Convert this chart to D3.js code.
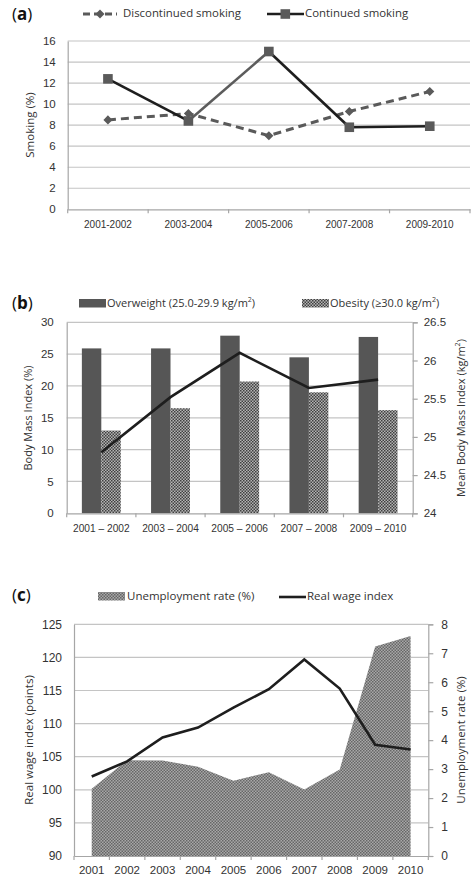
<!DOCTYPE html>
<html>
<head>
<meta charset="utf-8">
<script src="https://cdn.jsdelivr.net/npm/d3@7"></script>
<style>
  html, body { margin: 0; padding: 0; background: #fff; }
  svg { display: block; font-family: "Open Sans", "DejaVu Sans", sans-serif; }
  .tick text { fill: #333; }
</style>
</head>
<body>
<svg id="fig" width="474" height="882"></svg>
<script>
// ---- Panel (a): smoking ----
const smokePeriods = ["2001-2002", "2003-2004", "2005-2006", "2007-2008", "2009-2010"];
const discontinuedSmoking = [8.5, 9.1, 7.0, 9.3, 11.2];
const continuedSmoking = [12.4, 8.4, 15.0, 7.8, 7.9];
const smokeTicks = [0, 2, 4, 6, 8, 10, 12, 14, 16];

// ---- Panel (b): body mass index ----
const bmiPeriods = ["2001 \u2013 2002", "2003 \u2013 2004", "2005 \u2013 2006", "2007 \u2013 2008", "2009 \u2013 2010"];
const overweight = [25.9, 25.9, 27.9, 24.5, 27.7];
const obesity = [13.0, 16.5, 20.7, 19.0, 16.2];
const meanBmi = [24.8, 25.52, 26.1, 25.64, 25.75];
const bmiTicks = [0, 5, 10, 15, 20, 25, 30];
const meanBmiTicks = [24, 24.5, 25, 25.5, 26, 26.5];

// ---- Panel (c): wages and unemployment ----
const years = ["2001", "2002", "2003", "2004", "2005", "2006", "2007", "2008", "2009", "2010"];
const realWage = [102.0, 104.3, 107.9, 109.4, 112.4, 115.2, 119.7, 115.3, 106.8, 106.1];
const unemployment = [2.32, 3.31, 3.30, 3.08, 2.60, 2.89, 2.30, 2.99, 7.23, 7.60];
const wageTicks = [90, 95, 100, 105, 110, 115, 120, 125];
const unempTicks = [0, 1, 2, 3, 4, 5, 6, 7, 8];

const svg = d3.select("#fig");
const GRID = "#c4c4c4", AXIS = "#a6a6a6", TXT = "#333";

// checker fills for the hatched series
const defs = svg.append("defs");
function checker(id, dark, light, cell) {
  const p = defs.append("pattern").attr("id", id).attr("patternUnits", "userSpaceOnUse")
    .attr("width", cell * 2).attr("height", cell * 2);
  p.append("rect").attr("width", cell * 2).attr("height", cell * 2).attr("fill", light);
  p.append("rect").attr("width", cell).attr("height", cell).attr("fill", dark);
  p.append("rect").attr("x", cell).attr("y", cell).attr("width", cell).attr("height", cell).attr("fill", dark);
}
checker("obesityFill", "#404040", "#b4b4b4", 1.5);
checker("unempFill", "#666666", "#a8a8a8", 1.5);

function panelLabel(x, y, letter) {
  const t = svg.append("text").attr("x", x).attr("y", y).attr("font-size", 17).attr("fill", "#111");
  t.append("tspan").text("(");
  t.append("tspan").attr("font-weight", "bold").text(letter);
  t.append("tspan").text(")");
}

function gridLines(g, y, ticks, x0, x1) {
  g.append("g").selectAll("line").data(ticks).join("line")
    .attr("x1", x0).attr("x2", x1)
    .attr("y1", d => y(d)).attr("y2", d => y(d))
    .attr("stroke", GRID).attr("stroke-width", 1.2);
}

function styleAxis(sel, fs) {
  sel.selectAll(".domain").attr("stroke", AXIS).attr("stroke-width", 1.2);
  sel.selectAll(".tick line").attr("stroke", AXIS).attr("stroke-width", 1.2);
  sel.selectAll(".tick text").attr("font-size", fs).attr("fill", TXT);
}

function bandTicks(g, band, yPos, len) {
  const bounds = band.domain().map(d => band(d)).concat([band.range()[1]]);
  g.append("g").selectAll("line").data(bounds).join("line")
    .attr("x1", d => d).attr("x2", d => d)
    .attr("y1", yPos).attr("y2", yPos + len)
    .attr("stroke", AXIS).attr("stroke-width", 1.2);
}

function yTitle(x, y, text, fs) {
  svg.append("text").attr("transform", `translate(${x},${y}) rotate(-90)`)
    .attr("text-anchor", "middle").attr("dominant-baseline", "middle")
    .attr("font-size", fs).attr("fill", TXT).text(text);
}

/* ================= Panel (a) ================= */
{
  const g = svg.append("g");
  const x = d3.scaleBand().domain(smokePeriods).range([67.7, 470]);
  const y = d3.scaleLinear().domain([0, 16]).range([209.3, 41]);
  const cx = d => x(d) + x.bandwidth() / 2;

  gridLines(g, y, smokeTicks.slice(1), 67.7, 470);
  const ya = g.append("g").attr("transform", "translate(67.7,0)")
    .call(d3.axisLeft(y).tickValues(smokeTicks).tickSize(0).tickPadding(12));
  styleAxis(ya, 11.5);
  const xa = g.append("g").attr("transform", `translate(0,${y(0)})`)
    .call(d3.axisBottom(x).tickSize(0).tickPadding(12));
  styleAxis(xa, 10);
  bandTicks(g, x, y(0), 4);

  // discontinued: dashed line with diamonds
  const pts1 = smokePeriods.map((p, i) => [cx(p), y(discontinuedSmoking[i])]);
  g.append("path").attr("d", d3.line()(pts1)).attr("fill", "none")
    .attr("stroke", "#5a5a5a").attr("stroke-width", 3).attr("stroke-dasharray", "8,5");
  g.append("g").selectAll("path").data(pts1).join("path")
    .attr("d", d3.symbol(d3.symbolDiamond2, 52)())
    .attr("transform", d => `translate(${d[0]},${d[1]})`).attr("fill", "#5a5a5a");

  // continued: solid line with squares (rising segment drawn in grey)
  const pts2 = smokePeriods.map((p, i) => [cx(p), y(continuedSmoking[i])]);
  for (let i = 0; i < pts2.length - 1; i++) {
    g.append("path").attr("d", d3.line()([pts2[i], pts2[i + 1]])).attr("fill", "none")
      .attr("stroke", i === 1 ? "#5c5c5c" : "#1e1e1e").attr("stroke-width", 2.6);
  }
  g.append("g").selectAll("rect").data(pts2).join("rect")
    .attr("x", d => d[0] - 4.8).attr("y", d => d[1] - 4.8).attr("width", 9.6).attr("height", 9.6)
    .attr("fill", "#5a5a5a");

  yTitle(31, 125, "Smoking (%)", 11.5);

  // legend
  panelLabel(12, 20, "a");
  const lg = svg.append("g");
  lg.append("line").attr("x1", 83).attr("x2", 117).attr("y1", 14).attr("y2", 14)
    .attr("stroke", "#5a5a5a").attr("stroke-width", 3).attr("stroke-dasharray", "7,4");
  lg.append("path").attr("d", d3.symbol(d3.symbolDiamond2, 52)()).attr("transform", "translate(100,14)").attr("fill", "#5a5a5a");
  lg.append("text").attr("x", 123).attr("y", 14).attr("dominant-baseline", "middle")
    .attr("font-size", 11.4).attr("fill", TXT).text("Discontinued smoking");
  lg.append("line").attr("x1", 267).attr("x2", 304).attr("y1", 14).attr("y2", 14)
    .attr("stroke", "#1e1e1e").attr("stroke-width", 2.6);
  lg.append("rect").attr("x", 280.5).attr("y", 9.2).attr("width", 9.6).attr("height", 9.6).attr("fill", "#5a5a5a");
  lg.append("text").attr("x", 305).attr("y", 14).attr("dominant-baseline", "middle")
    .attr("font-size", 11.4).attr("fill", TXT).text("Continued smoking");
}

/* ================= Panel (b) ================= */
{
  const g = svg.append("g");
  const x = d3.scaleBand().domain(bmiPeriods).range([66.7, 412.7]);
  const sub = d3.scaleBand().domain(["ow", "ob"]).range([0, x.bandwidth()]).paddingOuter(0.78).paddingInner(0);
  const y = d3.scaleLinear().domain([0, 30]).range([513.3, 322.3]);
  const yR = d3.scaleLinear().domain([24, 26.5]).range([513.3, 322.3]);
  const cx = d => x(d) + x.bandwidth() / 2;

  gridLines(g, y, bmiTicks.slice(1), 66.7, 412.7);

  g.append("g").selectAll("rect").data(bmiPeriods).join("rect")
    .attr("x", (d) => x(d) + sub("ow")).attr("width", sub.bandwidth())
    .attr("y", (d, i) => y(overweight[i])).attr("height", (d, i) => y(0) - y(overweight[i]))
    .attr("fill", "#565656");
  g.append("g").selectAll("rect").data(bmiPeriods).join("rect")
    .attr("x", (d) => x(d) + sub("ob")).attr("width", sub.bandwidth())
    .attr("y", (d, i) => y(obesity[i])).attr("height", (d, i) => y(0) - y(obesity[i]))
    .attr("fill", "url(#obesityFill)");

  const ya = g.append("g").attr("transform", "translate(66.7,0)")
    .call(d3.axisLeft(y).tickValues(bmiTicks).tickSize(0).tickPadding(13));
  styleAxis(ya, 11.5);
  const yra = g.append("g").attr("transform", "translate(412.7,0)")
    .call(d3.axisRight(yR).tickValues(meanBmiTicks).tickSize(5).tickPadding(6).tickFormat(d3.format("")));
  styleAxis(yra, 11.5);
  const xa = g.append("g").attr("transform", `translate(0,${y(0)})`)
    .call(d3.axisBottom(x).tickSize(0).tickPadding(11));
  styleAxis(xa, 10.2);
  bandTicks(g, x, y(0), 4);

  const pts = bmiPeriods.map((p, i) => [cx(p), yR(meanBmi[i])]);
  g.append("path").attr("d", d3.line()(pts)).attr("fill", "none")
    .attr("stroke", "#1e1e1e").attr("stroke-width", 2.6);

  yTitle(29, 418, "Body Mass Index (%)", 11);
  const rt = svg.append("text").attr("transform", "translate(462,418) rotate(-90)")
    .attr("text-anchor", "middle").attr("dominant-baseline", "middle")
    .attr("font-size", 11).attr("fill", TXT);
  rt.append("tspan").text("Mean Body Mass Index (kg/m");
  rt.append("tspan").attr("font-size", 7).attr("dy", -4).text("2");
  rt.append("tspan").attr("dy", 4).text(")");

  panelLabel(12, 309, "b");
  const lg = svg.append("g");
  lg.append("rect").attr("x", 79).attr("y", 299).attr("width", 27).attr("height", 8.5).attr("fill", "#565656");
  const t1 = lg.append("text").attr("x", 107).attr("y", 304).attr("dominant-baseline", "middle")
    .attr("font-size", 11).attr("fill", TXT);
  t1.append("tspan").text("Overweight (25.0-29.9 kg/m");
  t1.append("tspan").attr("font-size", 7).attr("dy", -4).text("2");
  t1.append("tspan").attr("dy", 4).text(")");
  lg.append("rect").attr("x", 302).attr("y", 299).attr("width", 27).attr("height", 8.5).attr("fill", "url(#obesityFill)");
  const t2 = lg.append("text").attr("x", 330).attr("y", 304).attr("dominant-baseline", "middle")
    .attr("font-size", 11).attr("fill", TXT);
  t2.append("tspan").text("Obesity (\u226530.0 kg/m");
  t2.append("tspan").attr("font-size", 7).attr("dy", -4).text("2");
  t2.append("tspan").attr("dy", 4).text(")");
}

/* ================= Panel (c) ================= */
{
  const g = svg.append("g");
  const x = d3.scaleBand().domain(years).range([74, 428.3]);
  const y = d3.scaleLinear().domain([90, 125]).range([856, 624.3]);
  const yR = d3.scaleLinear().domain([0, 8]).range([856, 624.3]);
  const cx = d => x(d) + x.bandwidth() / 2;

  gridLines(g, y, wageTicks.slice(1), 74, 428.3);

  const area = d3.area().x((d, i) => cx(years[i])).y0(yR(0)).y1(d => yR(d));
  g.append("path").attr("d", area(unemployment)).attr("fill", "url(#unempFill)");

  const ya = g.append("g").attr("transform", "translate(74,0)")
    .call(d3.axisLeft(y).tickValues(wageTicks).tickSize(0).tickPadding(12));
  styleAxis(ya, 12);
  const yra = g.append("g").attr("transform", "translate(428.3,0)")
    .call(d3.axisRight(yR).tickValues(unempTicks).tickSize(5).tickPadding(8));
  styleAxis(yra, 12);
  const xa = g.append("g").attr("transform", `translate(0,${y(90)})`)
    .call(d3.axisBottom(x).tickSize(0).tickPadding(10));
  styleAxis(xa, 11.5);
  bandTicks(g, x, y(90), 4);

  const line = d3.line().x((d, i) => cx(years[i])).y(d => y(d));
  g.append("path").attr("d", line(realWage)).attr("fill", "none")
    .attr("stroke", "#1e1e1e").attr("stroke-width", 2.6);

  yTitle(30, 740, "Real wage index (points)", 11.5);
  yTitle(462, 740, "Unemployment rate (%)", 11.5);

  panelLabel(12, 601, "c");
  const lg = svg.append("g");
  lg.append("rect").attr("x", 98).attr("y", 592).attr("width", 27).attr("height", 8.5).attr("fill", "url(#unempFill)");
  lg.append("text").attr("x", 127).attr("y", 597).attr("dominant-baseline", "middle")
    .attr("font-size", 11.5).attr("fill", TXT).text("Unemployment rate (%)");
  lg.append("line").attr("x1", 279).attr("x2", 306).attr("y1", 597).attr("y2", 597)
    .attr("stroke", "#1e1e1e").attr("stroke-width", 2.6);
  lg.append("text").attr("x", 307).attr("y", 597).attr("dominant-baseline", "middle")
    .attr("font-size", 11.5).attr("fill", TXT).text("Real wage index");
}
</script>
</body>
</html>
